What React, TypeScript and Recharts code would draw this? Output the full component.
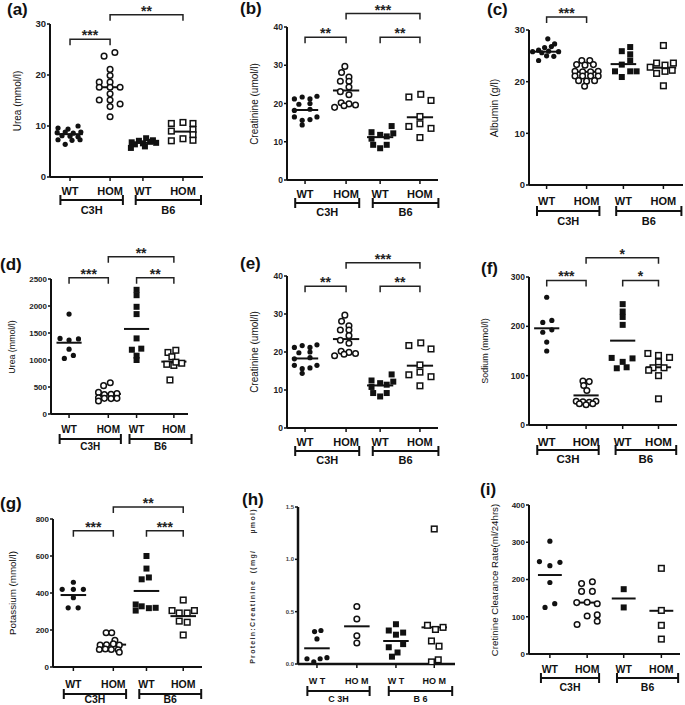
import React from 'react';
import { ScatterChart, Scatter, XAxis, YAxis, ReferenceLine } from 'recharts';

const FONT = '"Liberation Sans", Arial, Helvetica, sans-serif';

// ---- category / tick labels ----
const groupLabels = ['WT', 'HOM', 'WT', 'HOM'];
const strainLabels = ['C3H', 'B6'];
const spacedGroupLabels = ['W T', 'HO M', 'W T', 'HO M'];
const spacedStrainLabels = ['C 3H', 'B 6'];

// ---- (a) Urea (mmol/l) : [jitter, value] ----
const ureaWtC3H: [number, number][] = [[-0.3, 9.6], [-0.05, 9.4], [0.2, 10.0], [-0.32, 8.7], [-0.12, 8.8], [0.08, 8.6], [0.27, 8.8], [-0.2, 8.1], [0.0, 8.0], [0.2, 7.9], [-0.3, 7.3], [0.05, 7.2], [0.25, 7.3], [-0.12, 6.4]];
const ureaHomC3H: [number, number][] = [[-0.15, 23.7], [0.12, 24.4], [0, 21.1], [0, 19.9], [-0.27, 18.6], [0, 18.6], [-0.27, 17.6], [0, 17.6], [0.25, 17.6], [0, 16.3], [-0.27, 15.1], [0, 15.1], [0.25, 14.3], [0, 13.8], [0, 11.8]];
const ureaWtB6: [number, number][] = [[-0.28, 6.8], [-0.1, 7.1], [0.08, 7.6], [0.25, 7.2], [-0.2, 6.4], [0, 6.6], [0.18, 6.9], [0.33, 6.7], [-0.3, 5.7], [0.05, 6.0]];
const ureaHomB6: [number, number][] = [[-0.29, 10.5], [0, 10.7], [0.25, 10.5], [-0.29, 9.0], [0.25, 9.3], [0.25, 8.3], [-0.29, 7.1], [0, 7.5], [0.25, 7.2]];
const ureaMeans = [8.4, 17.6, 6.7, 8.9];
const ureaSig = [{ a: 0, b: 1, y: 27, label: '***' }, { a: 1, b: 3, y: 31.8, label: '**' }];

// ---- (b)/(e) Creatinine (umol/l) ----
const creatWtC3H: [number, number][] = [[-0.26, 21.2], [-0.07, 21.7], [0.12, 21.2], [0.29, 21.9], [-0.15, 19.8], [0.12, 20.0], [-0.26, 18.2], [0.12, 18.5], [-0.26, 16.5], [-0.07, 15.6], [0.12, 15.8], [0.29, 16.5], [-0.07, 14.4]];
const creatHomC3H: [number, number][] = [[-0.03, 29.7], [-0.11, 28.1], [0.07, 26.9], [-0.14, 25.8], [0.07, 25.8], [0.07, 24.3], [-0.14, 23.1], [0.07, 22.3], [-0.28, 19.0], [-0.12, 20.2], [0.07, 19.9], [0.23, 19.6], [-0.05, 19.4]];
const creatWtB6: [number, number][] = [[0.28, 14.1], [-0.21, 12.5], [0, 11.8], [0.16, 11.4], [0.32, 12.2], [-0.21, 10.8], [-0.17, 9.2], [0, 8.3], [0.16, 9.2]];
const creatHomB6: [number, number][] = [[-0.27, 21.7], [0.02, 22.4], [0.27, 20.8], [0, 16.6], [-0.27, 14.0], [0, 14.7], [0.27, 13.5], [0, 11.1]];
const creatMeans = [18.3, 23.4, 11.2, 16.4];
const creatSig = [{ a: 0, b: 1, y: 37.3, label: '**' }, { a: 1, b: 3, y: 43.5, label: '***' }, { a: 2, b: 3, y: 37.3, label: '**' }];

// ---- (c) Albumin (g/l) ----
const albWtC3H: [number, number][] = [[0.03, 28.3], [0.2, 27.3], [-0.05, 26.6], [0.12, 26.8], [-0.2, 26.1], [-0.35, 25.8], [-0.12, 25.6], [0.05, 25.9], [0.3, 25.8], [0.0, 25.0], [0.18, 24.9], [-0.2, 24.1]];
const albHomC3H: [number, number][] = [[-0.12, 24.1], [0.08, 24.1], [-0.25, 23.3], [-0.04, 23.2], [0.17, 23.3], [-0.29, 22.0], [-0.1, 21.9], [0.1, 21.9], [0.29, 22.0], [-0.29, 21.1], [-0.1, 21.1], [0.1, 21.1], [0.29, 21.1], [-0.2, 20.2], [0, 20.1], [0.2, 20.2], [-0.05, 19.1]];
const albWtB6: [number, number][] = [[0.17, 26.7], [-0.04, 25.9], [0.17, 25.3], [0.17, 24.1], [-0.04, 23.3], [-0.21, 22.0], [0.17, 22.0], [0.33, 22.0], [-0.04, 20.9]];
const albHomB6: [number, number][] = [[0, 27.0], [-0.17, 23.6], [0.04, 23.2], [0.25, 23.6], [-0.33, 22.8], [0.04, 22.0], [-0.17, 21.6], [0.22, 22.2], [0, 19.2]];
const albMeans = [25.8, 21.9, 23.4, 22.7];
const albSig = [{ a: 0, b: 1, y: 32.5, label: '***' }];

// ---- (d) Urea (mmol/l), urine ----
const uUreaWtC3H: [number, number][] = [[0, 1850], [-0.23, 1400], [0, 1370], [0.24, 1390], [0, 1200], [-0.12, 1030], [0.11, 1085]];
const uUreaHomC3H: [number, number][] = [[-0.12, 525], [0.05, 580], [-0.25, 400], [0.22, 380], [-0.1, 360], [0.07, 365], [-0.25, 300], [-0.1, 290], [0.07, 285], [0.22, 290], [-0.25, 240]];
const uUreaWtB6: [number, number][] = [[0, 2300], [0, 2200], [0, 1985], [0, 1850], [0, 1400], [-0.12, 1190], [0.12, 1210], [0, 1080], [0, 1000]];
const uUreaHomB6: [number, number][] = [[-0.15, 1140], [0.05, 1180], [-0.05, 1060], [-0.18, 920], [0, 900], [0.2, 940], [0.05, 960], [-0.1, 630]];
const uUreaMeans = [1320, 370, 1575, 970];
const uUreaSig = [{ a: 0, b: 1, y: 2525, label: '***' }, { a: 1, b: 3, y: 2914, label: '**' }, { a: 2, b: 3, y: 2525, label: '**' }];

// ---- (f) Sodium (mmol/l) ----
const naWtC3H: [number, number][] = [[0, 259], [-0.1, 208], [0.13, 212], [-0.1, 188], [0.13, 193], [0, 168], [0, 150]];
const naHomC3H: [number, number][] = [[-0.08, 89], [0.08, 88], [-0.06, 80], [0.02, 70], [-0.25, 48], [-0.08, 47], [0.08, 46], [0.25, 48], [-0.17, 43], [0, 41], [0.17, 43]];
const naWtB6: [number, number][] = [[0, 245], [0, 230], [0, 219], [0, 203], [-0.28, 136], [0, 128], [0.25, 135], [-0.15, 115], [0.1, 117]];
const naHomB6: [number, number][] = [[-0.27, 145], [0, 141], [0.28, 137], [0, 128], [-0.14, 116], [0.14, 116], [-0.25, 111], [0, 100], [0, 53]];
const naMeans = [196, 60, 171, 117];
const naSig = [{ a: 0, b: 1, y: 293, label: '***' }, { a: 1, b: 3, y: 339, label: '*' }, { a: 2, b: 3, y: 293, label: '*' }];

// ---- (g) Potassium (mmol/l) ----
const kWtC3H: [number, number][] = [[0, 458], [-0.28, 420], [0, 420], [0.25, 420], [0, 375], [-0.13, 320], [0.12, 320]];
const kHomC3H: [number, number][] = [[-0.18, 185], [-0.04, 185], [0.04, 145], [-0.33, 118], [-0.17, 120], [0, 125], [0.15, 118], [-0.35, 95], [-0.2, 97], [-0.05, 95], [0.12, 93], [0.15, 80]];
const kWtB6: [number, number][] = [[0, 600], [0, 532], [-0.12, 474], [0.06, 484], [-0.27, 338], [-0.12, 328], [-0.27, 305], [0.06, 318], [0.23, 320]];
const kHomB6: [number, number][] = [[0, 362], [-0.28, 305], [-0.1, 292], [0.1, 292], [0.28, 305], [-0.1, 248], [0.1, 242], [0, 173]];
const kMeans = [389, 121, 411, 275];
const kSig = [{ a: 0, b: 1, y: 737, label: '***' }, { a: 1, b: 3, y: 865, label: '**' }, { a: 2, b: 3, y: 737, label: '***' }];

// ---- (h) Protein:Creatinine ----
const pcWtC3H: [number, number][] = [[-0.06, 0.31], [0.1, 0.32], [0, 0.24], [-0.25, 0.05], [-0.08, 0.02], [0.08, 0.05], [0.25, 0.06]];
const pcHomC3H: [number, number][] = [[0, 0.55], [0, 0.43], [0, 0.27], [0, 0.20]];
const pcWtB6: [number, number][] = [[0, 0.38], [-0.18, 0.32], [0.18, 0.3], [0, 0.28], [-0.18, 0.16], [0.18, 0.19], [0.04, 0.11], [-0.1, 0.07]];
const pcHomB6: [number, number][] = [[0, 1.29], [-0.17, 0.37], [0.03, 0.33], [0.22, 0.35], [-0.07, 0.22], [0.12, 0.17], [0.1, 0.04], [-0.07, 0.02]];
const pcMeans = [0.15, 0.36, 0.22, 0.35];

// ---- (i) Creatinine clearance ----
const ccWtC3H: [number, number][] = [[0, 303], [-0.28, 248], [0, 237], [0.27, 246], [0, 192], [-0.13, 125], [0.13, 135]];
const ccHomC3H: [number, number][] = [[-0.15, 189], [0.14, 194], [-0.15, 168], [0.14, 168], [-0.28, 138], [0, 139], [0.27, 135], [0, 102], [0.27, 105], [-0.27, 79], [0.27, 88]];
const ccWtB6: [number, number][] = [[0, 174], [0, 125]];
const ccHomB6: [number, number][] = [[0, 230], [0, 117], [0, 77], [0, 40]];
const ccMeans = [212, 138, 149, 116];

type Sig = { a: number; b: number; y: number; label: string };
interface PanelDef {
  letter: string; letterPos: [number, number];
  title: string; titleX: number; titleFont: number; titleSpacing?: number; titleBold?: boolean;
  left: number; top: number; bottom: number; right: number;
  pos: number[]; domain: [number, number];
  yMax: number; yTicks: number[]; decimals?: number; tickFont: number; tickFill?: string;
  catFont: number; catDy: [number, number, number];
  cats: string[]; strains: string[];
  groups: [number, number][][]; means: number[]; sig: Sig[]; axisW?: number;
}

const panels: PanelDef[] = [
  { letter: '(a)', letterPos: [7, 1], title: 'Urea (mmol/l)', titleX: 18, titleFont: 10,
    left: 50, top: 24, bottom: 177, right: 203, pos: [1, 2, 2.82, 3.82], domain: [0.5, 4.32],
    yMax: 30, yTicks: [0, 10, 20, 30], tickFont: 9.5, catFont: 11, catDy: [14, 23, 33],
    cats: groupLabels, strains: strainLabels,
    groups: [ureaWtC3H, ureaHomC3H, ureaWtB6, ureaHomB6], means: ureaMeans, sig: ureaSig },
  { letter: '(b)', letterPos: [240, 0], title: 'Creatinine (umol/l)', titleX: 255, titleFont: 10,
    left: 287, top: 27, bottom: 180, right: 438, pos: [1, 2, 2.83, 3.8], domain: [0.56, 4.24],
    yMax: 40, yTicks: [0, 10, 20, 30, 40], tickFont: 8.5, catFont: 11, catDy: [14, 23, 32],
    cats: groupLabels, strains: strainLabels,
    groups: [creatWtC3H, creatHomC3H, creatWtB6, creatHomB6], means: creatMeans, sig: creatSig },
  { letter: '(c)', letterPos: [487, 1], title: 'Albumin (g/l)', titleX: 495, titleFont: 10.4,
    left: 529, top: 30, bottom: 185, right: 683, pos: [1, 2, 2.92, 3.92], domain: [0.56, 4.41],
    yMax: 30, yTicks: [0, 10, 20, 30], tickFont: 9.5, catFont: 11, catDy: [16, 26, 36],
    cats: groupLabels, strains: strainLabels,
    groups: [albWtC3H, albHomC3H, albWtB6, albHomB6], means: albMeans, sig: albSig },
  { letter: '(d)', letterPos: [0, 256], title: 'Urea (mmol/l)', titleX: 12, titleFont: 8.8,
    left: 51, top: 279, bottom: 414, right: 188, pos: [1, 2, 2.72, 3.67], domain: [0.54, 4.03],
    yMax: 2500, yTicks: [0, 500, 1000, 1500, 2000, 2500], tickFont: 8, catFont: 10, catDy: [15, 25, 32],
    cats: groupLabels, strains: strainLabels,
    groups: [uUreaWtC3H, uUreaHomC3H, uUreaWtB6, uUreaHomB6], means: uUreaMeans, sig: uUreaSig },
  { letter: '(e)', letterPos: [240, 255], title: 'Creatinine (umol/l)', titleX: 255, titleFont: 10,
    left: 287, top: 276, bottom: 428, right: 438, pos: [1, 2, 2.83, 3.8], domain: [0.56, 4.24],
    yMax: 40, yTicks: [0, 10, 20, 30, 40], tickFont: 8.5, catFont: 11, catDy: [14, 23, 32],
    cats: groupLabels, strains: strainLabels,
    groups: [creatWtC3H, creatHomC3H, creatWtB6, creatHomB6], means: creatMeans, sig: creatSig },
  { letter: '(f)', letterPos: [481, 260], title: 'Sodium (mmol/l)', titleX: 485, titleFont: 9,
    left: 529, top: 277, bottom: 425, right: 677, pos: [1, 2, 2.93, 3.84], domain: [0.55, 4.31],
    yMax: 300, yTicks: [0, 100, 200, 300], tickFont: 8.5, catFont: 11.5, catDy: [17, 25, 34],
    cats: groupLabels, strains: strainLabels,
    groups: [naWtC3H, naHomC3H, naWtB6, naHomB6], means: naMeans, sig: naSig },
  { letter: '(g)', letterPos: [0, 495], title: 'Potassium (mmol/l)', titleX: 13, titleFont: 9.8,
    left: 53, top: 519, bottom: 667, right: 202, pos: [1, 2, 2.83, 3.75], domain: [0.49, 4.22],
    yMax: 800, yTicks: [0, 200, 400, 600, 800], tickFont: 8, catFont: 10.5, catDy: [17, 27, 32.5],
    cats: groupLabels, strains: strainLabels,
    groups: [kWtC3H, kHomC3H, kWtB6, kHomB6], means: kMeans, sig: kSig },
  { letter: '(h)', letterPos: [242, 491], title: 'Protein:Creatinine  ((mg/     \u00b5mol)', titleX: 252, titleFont: 7, titleSpacing: 1.3, titleBold: true,
    left: 298, top: 507, bottom: 664, right: 455, pos: [1, 2, 2.98, 3.94], domain: [0.525, 4.46],
    yMax: 1.5, yTicks: [0, 0.5, 1.0, 1.5], decimals: 1, tickFont: 6, tickFill: '#444', catFont: 9, catDy: [17, 27, 35],
    cats: spacedGroupLabels, strains: spacedStrainLabels, axisW: 2.5,
    groups: [pcWtC3H, pcHomC3H, pcWtB6, pcHomB6], means: pcMeans, sig: [] },
  { letter: '(i)', letterPos: [480, 481], title: 'Cretinine Clearance Rate(ml/24hrs)', titleX: 495, titleFont: 9.7,
    left: 529, top: 505, bottom: 654, right: 680, pos: [1, 2, 2.98, 3.99], domain: [0.44, 4.49],
    yMax: 400, yTicks: [0, 100, 200, 300, 400], tickFont: 8, catFont: 10.5, catDy: [15, 24, 33],
    cats: groupLabels, strains: strainLabels,
    groups: [ccWtC3H, ccHomC3H, ccWtB6, ccHomB6], means: ccMeans, sig: [] },
];

const INK = '#111';
const markers = [
  (p: any) => <circle cx={p.cx} cy={p.cy} r={2.6} fill={INK} />,
  (p: any) => <circle cx={p.cx} cy={p.cy} r={2.8} fill="#fff" stroke={INK} strokeWidth={1.5} />,
  (p: any) => <rect x={p.cx - 3} y={p.cy - 3} width={6} height={6} fill={INK} />,
  (p: any) => <rect x={p.cx - 2.8} y={p.cy - 2.8} width={5.6} height={5.6} fill="#fff" stroke={INK} strokeWidth={1.5} />,
];

const YW = 50, MT = 45, XH = 50, MR = 8;

const bracketShape = (label: string) => (p: any) => {
  const { x1, y1, x2, y2 } = p;
  const drop = 6;
  return (
    <g>
      <path d={`M${x1},${y1 + drop}V${y1}H${x2}V${y2 + drop}`} stroke="#222" strokeWidth={1.5} fill="none" />
      <text x={(x1 + x2) / 2} y={y1 + 1} textAnchor="middle" fontSize={14} fontWeight="bold" fontFamily={FONT} fill="#222">{label}</text>
    </g>
  );
};

function Panel({ d }: { d: PanelDef }) {
  const plotW = d.right - d.left;
  const plotH = d.bottom - d.top;
  const W = YW + plotW + MR;
  const H = MT + plotH + XH;
  const ppu = plotW / (d.domain[1] - d.domain[0]);
  const axisY = MT + plotH;
  const aw = d.axisW ?? 2;

  const renderTick = (props: any) => {
    const { x, payload } = props;
    const i = d.pos.findIndex((p) => Math.abs(p - payload.value) < 1e-6);
    const els: any[] = [];
    els.push(
      <text key="c" x={x} y={axisY + d.catDy[0] + d.catFont * 0.36} textAnchor="middle" fontSize={d.catFont} fontWeight="bold" fontFamily={FONT} fill={INK}>
        {d.cats[i]}
      </text>
    );
    if (i === 0 || i === 2) {
      const j = i + 1;
      const lo = i === 0 ? -0.24 : -0.18;
      const hi = i === 0 ? 0.32 : 0.45;
      const x1 = x + lo * ppu;
      const x2 = x + (d.pos[j] - d.pos[i] + hi) * ppu;
      const by = axisY + d.catDy[1];
      els.push(<path key="b" d={`M${x1},${by - 5}V${by + 5}M${x1},${by}H${x2}M${x2},${by - 5}V${by + 5}`} stroke={INK} strokeWidth={2} fill="none" />);
      els.push(
        <text key="s" x={(x1 + x2) / 2} y={axisY + d.catDy[2] + d.catFont * 0.36} textAnchor="middle" fontSize={d.catFont} fontWeight="bold" fontFamily={FONT} fill={INK}>
          {d.strains[i / 2]}
        </text>
      );
    }
    return <g>{els}</g>;
  };

  const midY = (d.top + d.bottom) / 2;

  return (
    <>
      <div style={{ position: 'absolute', left: d.letterPos[0], top: d.letterPos[1], fontSize: 17, lineHeight: '17px', fontWeight: 'bold', color: INK, fontFamily: FONT }}>
        {d.letter}
      </div>
      <div style={{ position: 'absolute', left: d.titleX, top: midY, transform: 'translate(-50%,-50%) rotate(-90deg)', whiteSpace: 'pre', fontSize: d.titleFont, letterSpacing: d.titleSpacing ?? 0, fontWeight: d.titleBold ? 'bold' : 'normal', color: d.titleBold ? '#333' : INK, fontFamily: FONT, lineHeight: 1 }}>
        {d.title}
      </div>
      <div style={{ position: 'absolute', left: d.left - YW, top: d.top - MT, width: W, height: H }}>
        <ScatterChart width={W} height={H} margin={{ top: MT, right: MR, bottom: 0, left: 0 }}>
          <XAxis type="number" dataKey="x" domain={d.domain} ticks={d.pos} interval={0} height={XH} allowDataOverflow
            tickSize={4} axisLine={{ stroke: INK, strokeWidth: aw }} tickLine={{ stroke: INK, strokeWidth: 1.5 }} tick={renderTick} />
          <YAxis type="number" dataKey="y" domain={[0, d.yMax]} ticks={d.yTicks} interval={0} width={YW} allowDataOverflow
            tickSize={3} tickMargin={1} axisLine={{ stroke: INK, strokeWidth: aw }} tickLine={{ stroke: INK, strokeWidth: 1.5 }}
            tickFormatter={(v: number) => (d.decimals ? v.toFixed(d.decimals) : String(v))}
            tick={{ fontSize: d.tickFont, fontWeight: 'bold', fill: d.tickFill ?? '#222', fontFamily: FONT }} />
          {d.groups.map((g, gi) => (
            <Scatter key={'s' + gi} data={g.map(([dx, v]) => ({ x: d.pos[gi] + dx, y: v }))} shape={markers[gi]} isAnimationActive={false} />
          ))}
          {d.means.map((m, gi) => (
            <ReferenceLine key={'m' + gi} segment={[{ x: d.pos[gi] - 0.32, y: m }, { x: d.pos[gi] + 0.32, y: m }]} stroke={INK} strokeWidth={2} ifOverflow="visible" />
          ))}
          {d.sig.map((s, si) => (
            <ReferenceLine key={'b' + si} segment={[{ x: d.pos[s.a], y: s.y }, { x: d.pos[s.b], y: s.y }]} ifOverflow="visible" shape={bracketShape(s.label)} />
          ))}
        </ScatterChart>
      </div>
    </>
  );
}

export default function App() {
  return (
    <div style={{ position: 'absolute', left: 0, top: 0, width: 685, height: 705, overflow: 'hidden', background: '#fff', fontFamily: FONT }}>
      {panels.map((d) => (
        <Panel key={d.letter} d={d} />
      ))}
    </div>
  );
}
